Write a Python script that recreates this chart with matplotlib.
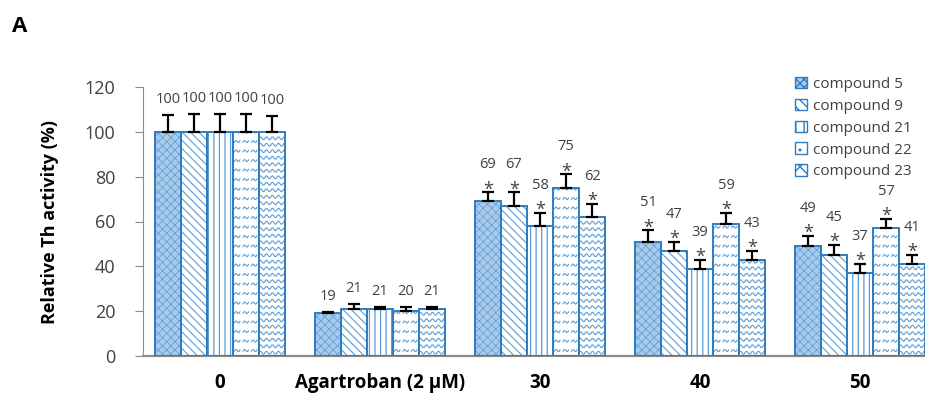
import numpy as np
import matplotlib
matplotlib.use("Agg")
import matplotlib.pyplot as plt
from matplotlib.patches import Patch
from matplotlib.lines import Line2D

plt.rcParams['font.family'] = ['Open Sans', 'DejaVu Sans']

# ---- data ----
groups = ["0", "Agartroban (2 \u03bcM)", "30", "40", "50"]
series = ["compound 5", "compound 9", "compound 21", "compound 22", "compound 23"]
c5 = [100, 19, 69, 51, 49]
c9 = [100, 21, 67, 47, 45]
c21 = [100, 21, 58, 39, 37]
c22 = [100, 20, 75, 59, 57]
c23 = [100, 21, 62, 43, 41]
e5 = [7.5, 0.5, 4, 5, 4.5]
e9 = [8, 2, 6, 4, 4.5]
e21 = [8, 1, 6, 4, 4]
e22 = [8, 2, 6, 5, 4]
e23 = [7, 1, 6, 4, 4]
starred = [False, False, True, True, True]

values = [c5, c9, c21, c22, c23]
errors = [e5, e9, e21, e22, e23]

EDGE = '#2e7dc0'
HATCH = '#5b9bd5'
TXT = '#404040'
GRAY = '#8c8c8c'

fig = plt.figure(figsize=(9.25, 3.96), dpi=100)
ax = fig.add_axes([143 / 925, 40 / 396, 782 / 925, 269 / 396])
ax.set_xlim(-0.481, 4.406)
ax.set_ylim(0, 120)

x = np.arange(len(groups))
width = 0.1625

styles = [
    dict(face='#a9cbeb', hatch='xxxx', hlw=0.5),
    dict(face='white', hatch='\\\\\\\\', hlw=0.8),
    dict(face='white', hatch='|||', hlw=0.9),
    dict(face='white', hatch=None, hlw=0.8),
    dict(face='white', hatch=None, hlw=0.8),
]

bar_sets = []
for j, (vals, errs, st) in enumerate(zip(values, errors, styles)):
    xs = x + (j - 2) * width
    with plt.rc_context({'hatch.linewidth': st['hlw']}):
        bars = ax.bar(xs, vals, width, facecolor=st['face'], edgecolor=HATCH,
                      linewidth=0, hatch=st['hatch'], zorder=2)
    ax.bar(xs, vals, width, facecolor='none', edgecolor=EDGE, linewidth=1.4, zorder=3)
    ax.errorbar(xs, vals, yerr=[np.zeros(len(errs)), errs], fmt='none',
                ecolor='black', elinewidth=1.6, capsize=4, capthick=1.6, zorder=4)
    bar_sets.append(bars)

to_data = ax.transData.inverted()


def draw_pattern(patch, kind):
    bb = patch.get_window_extent()
    x0, x1, y0, y1 = bb.x0, bb.x1, bb.y0, bb.y1
    lines = []
    if kind == 'zigzag':
        row, period, amp = 6.5, 6.0, 1.4
        y = y0 + row / 2
        while y < y1:
            xx = np.linspace(x0, x1, 200)
            yy = y + amp * np.sin(2 * np.pi * (xx - x0) / period)
            lines.append((xx, yy))
            y += row
    else:
        row, seg, gap, amp = 9.5, 5.5, 3.0, 1.3
        y = y0 + row / 2
        while y < y1:
            s = x0 + 1.5
            while s < x1:
                xx = np.linspace(s, min(s + seg, x1), 20)
                yy = y + amp * np.sin(2 * np.pi * (xx - s) / seg) + (xx - s) * 0.25
                lines.append((xx, yy))
                s += seg + gap
            y += row
    for xx, yy in lines:
        pts = to_data.transform(np.column_stack([xx, yy]))
        ln = Line2D(pts[:, 0], pts[:, 1], color=HATCH, linewidth=0.8, zorder=2.5)
        ax.add_line(ln)
        ln.set_clip_path(patch)


for p in bar_sets[3]:
    draw_pattern(p, 'squiggle')
for p in bar_sets[4]:
    draw_pattern(p, 'zigzag')

# value labels and significance marks
for j, (vals, errs) in enumerate(zip(values, errors)):
    for i in range(len(groups)):
        xi = x[i] + (j - 2) * width
        top = vals[i] + errs[i]
        if starred[i]:
            ax.annotate('*', (xi, top), xytext=(0, -6), textcoords='offset pixels',
                        ha='center', va='bottom', fontsize=13, color=TXT, zorder=5)
            off = 20
        else:
            off = 8
        ax.annotate(str(vals[i]), (xi, top), xytext=(0, off), textcoords='offset pixels',
                    ha='center', va='bottom', fontsize=10.5, color=TXT, zorder=5)

# axes styling
for s in ['top', 'right']:
    ax.spines[s].set_visible(False)
ax.spines['left'].set_color(GRAY)
ax.spines['bottom'].set_color(GRAY)
ax.spines['bottom'].set_linewidth(1.6)
ax.set_yticks(np.arange(0, 121, 20))
ax.tick_params(axis='y', direction='out', length=6, color=GRAY, labelsize=13,
               labelcolor=TXT, pad=14)
ax.set_xticks(x)
ax.set_xticklabels(groups, fontsize=13.5, fontweight='bold', color='black')
ax.tick_params(axis='x', length=0, pad=12)
ax.set_ylabel('Relative Th activity (%)', fontsize=13, fontweight='bold', labelpad=18)

fig.text(12 / 925, 1 - 27 / 396, 'A', fontsize=16, fontweight='bold', va='center')

handles = [
    Patch(facecolor='#a9cbeb', edgecolor=EDGE, hatch='xxxx'),
    Patch(facecolor='white', edgecolor=EDGE, hatch='\\\\\\'),
    Patch(facecolor='white', edgecolor=EDGE, hatch='||'),
    Patch(facecolor='white', edgecolor=EDGE, hatch='..'),
    Patch(facecolor='white', edgecolor=EDGE, hatch='xx'),
]
fig.legend(handles, series, loc='upper left', bbox_to_anchor=(781 / 925, 1 - 63 / 396),
           frameon=False, fontsize=11, handlelength=0.8, handleheight=0.8,
           handletextpad=0.4, labelspacing=0.44, labelcolor=TXT)

fig.savefig('out.png', dpi=100)
